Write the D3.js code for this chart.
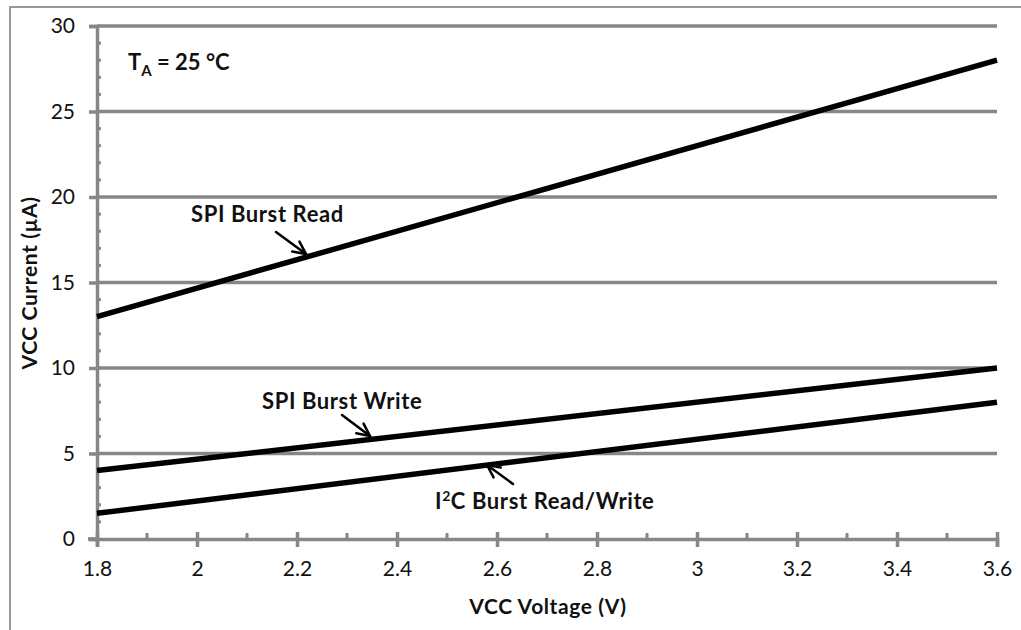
<!DOCTYPE html>
<html><head><meta charset="utf-8">
<script src="https://cdn.jsdelivr.net/npm/d3@7"></script>
<style>body{margin:0;background:#fff}svg{display:block}text{font-family:Lato,"Open Sans",sans-serif}</style>
</head><body>
<script>
const xTicks = [1.8,2,2.2,2.4,2.6,2.8,3,3.2,3.4,3.6];
const yTicks = [0,5,10,15,20,25,30];
const seriesNames = ["SPI Burst Read","SPI Burst Write","I²C Burst Read/Write"];
const voltage = [1.8, 3.6];
const spiRead = [13, 28];
const spiWrite = [4, 10];
const i2c = [1.5, 8];

const W=1021,H=630;
const svg=d3.select("body").append("svg").attr("width",W).attr("height",H);
const x=d3.scaleLinear().domain([1.8,3.6]).range([97,997]);
const y=d3.scaleLinear().domain([0,30]).range([539,26]);
const grey="#878787";

// frame
svg.append("rect").attr("x",10).attr("y",7).attr("width",1030).attr("height",640)
  .attr("fill","none").attr("stroke","#999").attr("stroke-width",2);

// gridlines
svg.append("g").selectAll("line").data(yTicks.filter(d=>d>0)).join("line")
  .attr("x1",x(1.8)).attr("x2",x(3.6)).attr("y1",d=>y(d)).attr("y2",d=>y(d))
  .attr("stroke",grey).attr("stroke-width",3.5);

// y axis
const yAx=svg.append("g").attr("transform",`translate(${x(1.8)},0)`)
  .call(d3.axisLeft(y).tickValues(yTicks).tickSize(8).tickPadding(14));
yAx.select(".domain").attr("stroke",grey).attr("stroke-width",3.5);
yAx.selectAll(".tick line").attr("stroke",grey).attr("stroke-width",3.5);
yAx.selectAll("text").attr("font-size",21).attr("fill","#111").attr("x",-22);
// y minor
svg.append("g").selectAll("line").data(d3.range(0,31,1).filter(d=>d%5!==0)).join("line")
  .attr("x1",x(1.8)).attr("x2",x(1.8)+4).attr("y1",d=>y(d)).attr("y2",d=>y(d))
  .attr("stroke",grey).attr("stroke-width",3);

// x axis
const xAx=svg.append("g").attr("transform",`translate(0,${y(0)})`)
  .call(d3.axisBottom(x).tickValues(xTicks).tickSize(8).tickPadding(14).tickFormat(d3.format("~g")));
xAx.select(".domain").attr("stroke",grey).attr("stroke-width",3.5);
xAx.selectAll(".tick line").attr("stroke",grey).attr("stroke-width",3.5).attr("y1",-7);
xAx.selectAll("text").attr("font-size",21).attr("fill","#111");
svg.append("line").attr("x1",x(1.8)-9).attr("x2",x(1.8)).attr("y1",y(0)).attr("y2",y(0)).attr("stroke",grey).attr("stroke-width",3.5);
// x minor
svg.append("g").selectAll("line").data(d3.range(1.9,3.6,0.2)).join("line")
  .attr("x1",d=>x(d)).attr("x2",d=>x(d)).attr("y1",y(0)-6).attr("y2",y(0))
  .attr("stroke",grey).attr("stroke-width",3);

// series
const line=d3.line().x((d,i)=>x(voltage[i])).y(d=>y(d));
[spiRead,spiWrite,i2c].forEach(s=>{
  svg.append("path").datum(s).attr("d",line).attr("fill","none")
    .attr("stroke","#000").attr("stroke-width",5.5).attr("stroke-linecap","butt");
});

// labels
function label(tx,ty,txt){
  return svg.append("text").attr("x",tx).attr("y",ty).attr("font-size",22).attr("font-weight","bold").attr("letter-spacing",0.6).attr("fill","#111").text(txt);
}
label(191,222,seriesNames[0]);
label(262,409,seriesNames[1]);
const t3=svg.append("text").attr("x",435).attr("y",509).attr("font-size",22).attr("font-weight","bold").attr("letter-spacing",0.6).attr("fill","#111");
t3.append("tspan").text("I");
t3.append("tspan").attr("font-size",14).attr("dy",-8).text("2");
t3.append("tspan").attr("dy",8).text("C Burst Read/Write");

// arrows
function arrow(x1,y1,x2,y2){
  const a=Math.atan2(y2-y1,x2-x1), L=14, sp=0.45;
  const g=svg.append("g").attr("stroke","#000").attr("stroke-width",2.5).attr("fill","none").attr("stroke-linecap","round");
  g.append("line").attr("x1",x1).attr("y1",y1).attr("x2",x2).attr("y2",y2);
  g.append("path").attr("d",`M${x2-L*Math.cos(a-sp)},${y2-L*Math.sin(a-sp)}L${x2},${y2}L${x2-L*Math.cos(a+sp)},${y2-L*Math.sin(a+sp)}`);
}
arrow(276,232,306,254);
arrow(342,415,370,436);
arrow(513,484,487,465);

// TA label
const ta=svg.append("text").attr("x",128).attr("y",70).attr("font-size",22).attr("font-weight","bold").attr("fill","#111");
ta.append("tspan").text("T");
ta.append("tspan").attr("font-size",15).attr("dy",6).text("A");
ta.append("tspan").attr("dy",-6).text(" = 25 °C");

// axis titles
svg.append("text").attr("x",548).attr("y",614).attr("text-anchor","middle").attr("font-size",21).attr("font-weight","bold").attr("letter-spacing",0.6).attr("fill","#111").text("VCC Voltage (V)");
svg.append("text").attr("transform","translate(37,283) rotate(-90)").attr("text-anchor","middle").attr("font-size",21).attr("font-weight","bold").attr("letter-spacing",0.6).attr("fill","#111").text("VCC Current (µA)");
</script>
</body></html>
